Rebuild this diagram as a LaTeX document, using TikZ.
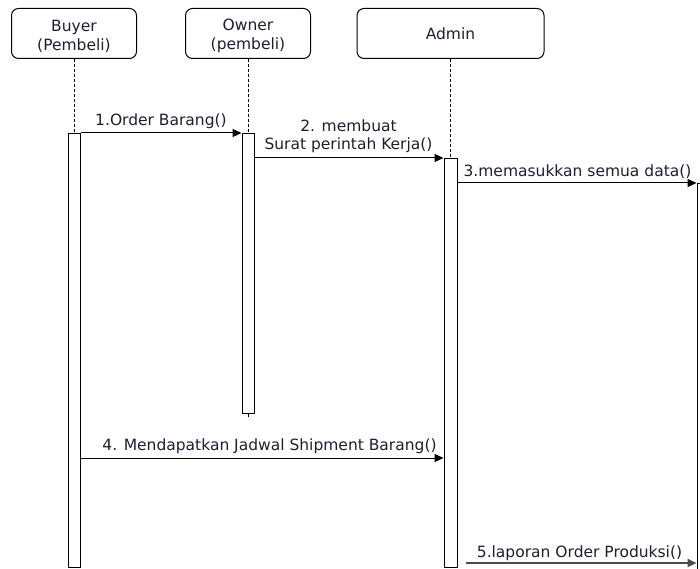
\documentclass[tikz,border=0pt]{standalone}
\usepackage{fontspec}
\setmainfont{DejaVu Sans}
\usetikzlibrary{arrows.meta}
\definecolor{inkcol}{RGB}{30,30,50}
\tikzset{
  actor/.style={draw, rounded corners=7pt, minimum width=125pt, minimum height=50pt,
    align=center, inner sep=0pt, text=inkcol, font=\fontsize{15.5}{19}\selectfont},
  actbar/.style={draw, fill=white, minimum width=12pt, inner sep=0pt, anchor=north},
  lifeline/.style={dash pattern=on 3pt off 2pt},
  msg/.style={-{Triangle[length=9pt,width=8pt]}},
  msglabel/.style={inner sep=0pt, align=center, text=inkcol, font=\fontsize{15.5}{18.5}\selectfont}
}

\begin{document}
\begin{tikzpicture}[x=1pt,y=-1pt,line width=1pt]
  \useasboundingbox (0,0) rectangle (700,569);

  %% Actors
  \node[actor] (buyer) at (74,33.5) {\rule{0pt}{17pt}Buyer\\(Pembeli)};
  \node[actor] (owner) at (248,33.5) {\rule{0pt}{17pt}Owner\\(pembeli)};
  \node[actor, minimum width=187pt] (admin) at (450.5,33.5) {Admin};

  %% Activation bars
  \node[actbar, minimum height=434pt] (buyerbar) at (74,133) {};
  \node[actbar, minimum height=280pt] (ownerbar) at (248,133) {};
  \node[actbar, minimum height=409pt, minimum width=13pt] (adminbar) at (450.5,158) {};
  \node[actbar, minimum height=386pt] (databar) at (703,183) {};

  %% Lifelines
  \draw[lifeline] (buyer.south) -- (buyerbar.north);
  \draw[lifeline] (owner.south) -- (ownerbar.north);
  \draw[lifeline] (ownerbar.south) -- ++(0,5);
  \draw[lifeline] (admin.south) -- (adminbar.north);

  %% Messages
  \draw[msg] (buyerbar.north east) -- (ownerbar.north west);
  \node[msglabel] (lbl1) at (161,121) {1.Order Barang()};

  \draw[msg] (ownerbar.east |- adminbar.north) -- (adminbar.north west);
  \node[msglabel] (lbl2) at (348.5,136) {2. membuat\\Surat perintah Kerja()};

  \draw[msg] (adminbar.east |- databar.north) -- (databar.north west);
  \node[msglabel] (lbl3) at (577.5,172) {3.memasukkan semua data()};

  \coordinate (m4) at (0,458);
  \draw[msg] (buyerbar.east |- m4) -- (adminbar.west |- m4);
  \node[msglabel] (lbl4) at (269.5,446) {4. Mendapatkan Jadwal Shipment Barang()};

  \coordinate (m5) at (466,563);
  \draw[msg, black!70, line width=1.6pt] (m5) -- (databar.west |- m5);
  \node[msglabel] (lbl5) at (579.5,553) {5.laporan Order Produksi()};

\end{tikzpicture}
\end{document}
